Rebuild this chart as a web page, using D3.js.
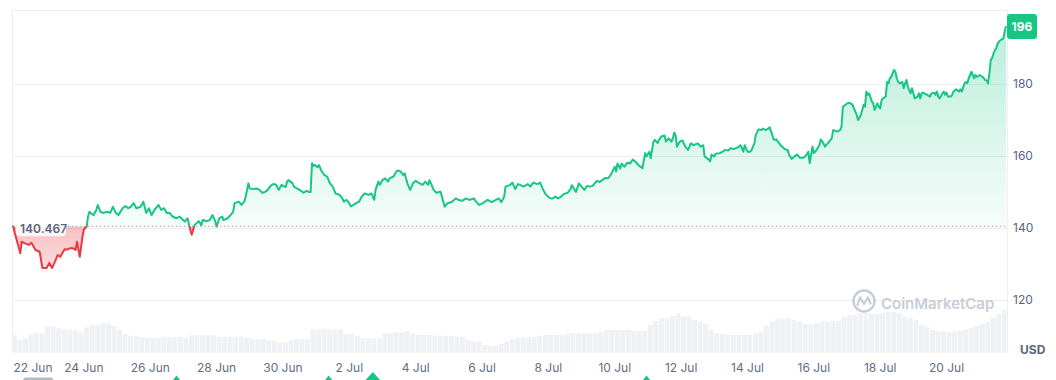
<!DOCTYPE html>
<html>
<head>
<meta charset="utf-8">
<script src="https://cdn.jsdelivr.net/npm/d3@7"></script>
<style>
  html, body { margin: 0; padding: 0; background: #fff; }
  svg { display: block; font-family: Inter, "Noto Sans", "DejaVu Sans", sans-serif; }
</style>
</head>
<body>
<svg id="chart" width="1056" height="380"></svg>
<script>
// ---------------- DATA ----------------
const startTime = "2023-06-21T20:00:00";   // first hourly sample
const endHour = 719;
const baselineValue = 140.467;
const lastValue = 196;
const currency = "USD";
const watermark = "CoinMarketCap";

const priceHours = [0,1,2,6,7,9,12,14,17,20,22,25,27,29,31,33,35,38,40,42,44,46,47,49,51,52,54,55,56,57,59,61,62,64,66,69,71,73,75,77,80,82,84,86,88,90,93,95,97,99,101,103,106,108,110,112,114,116,119,121,
125,127,129,130,132,135,137,138,141,143,145,147,148,150,152,153,156,158,160,161,164,165,166,168,169,171,172,174,177,179,181,183,185,187,189,191,193,195,196,198,199,200,203,204,206,208,211,213,215,216,
217,218,219,221,222,224,226,228,230,232,234,237,239,240,242,244,245,247,249,251,253,255,258,260,262,263,265,266,268,270,272,273,276,278,279,281,283,284,286,288,290,292,294,297,299,301,
302,305,307,310,313,315,318,321,323,326,328,331,334,336,338,341,344,347,349,352,354,356,357,360,362,364,366,368,370,373,375,377,380,382,384,386,389,391,393,395,397,399,402,404,405,407,408,410,412,414,416,418,420,423,425,427,429,431,433,
436,437,438,440,441,443,445,447,449,451,453,455,456,458,459,461,462,464,465,467,468,470,472,473,475,477,478,479,480,481,483,485,487,489,491,493,496,498,500,501,504,505,506,508,509,512,514,516,518,520,522,525,527,529,530,532,534,535,537,538,540,542,543,545,547,548,550,551,553,554,556,559,561,562,564,566,568,570,572,574,576,577,579,580,582,584,585,587,588,590,591,
593,594,597,599,600,601,604,606,608,610,611,612,614,615,616,617,618,619,620,622,623,624,626,627,628,629,630,632,633,634,635,636,638,639,640,641,642,644,645,646,647,648,650,651,652,653,655,656,657,658,659,662,664,665,667,668,669,670,671,673,674,675,676,677,679,680,681,682,683,685,686,687,
689,690,691,692,693,694,696,697,698,699,700,702,703,704,705,706,707,708,709,710,711,712,713,714,715,717,718,719];

const priceValues = [140.5,140.4,138.6,133,136.2,135.8,135.3,135.9,133.9,133.4,128.9,128.9,130.3,128.9,130.6,132.5,132,134.1,134,134.4,134.4,133.9,136.2,132,137.6,139.6,140.4,143.2,144.5,144.1,143.6,145,146.4,144.5,144.2,144.5,144.2,145.9,144.2,143.6,145.5,146.1,145.5,145.9,146.9,145.5,145.9,147.3,144.2,145.5,143.6,145,146.4,145,145.5,144.2,144.2,143.2,142.7,143.2,
141.8,142.7,139.4,138.1,140.8,141.9,140.8,142.2,141.9,142.2,143.6,141.9,140.4,142.7,143.2,142.2,142.7,143.6,144.5,146.9,147.3,146.9,146.4,147.3,148.7,152.4,151,150.8,151,150.6,149.8,150,150.6,151.7,152.2,152,150.6,152,151.7,151.4,152.9,153.3,152.4,151.5,151,150.6,149.8,150.3,150,150,
158,157.2,157.5,156.9,157.5,155.7,154.7,154.3,152.4,151.5,149.6,149.2,148.2,147.3,147.8,146.9,146,146.4,146.9,147.3,148.7,149.6,149.2,149.6,147.8,150.6,152.9,152,153.3,153.8,152.9,153.8,154.3,155.7,156,155.7,154.7,155.2,152.4,150.6,152.4,153.1,152.6,152,152.9,152,
153.3,150.6,149.8,150.1,145.9,146.9,147.2,148.2,147.8,147.6,148.2,147.8,148.2,147.2,146.4,147,147.8,147.2,147.6,148.2,147.2,148.7,151.5,151.9,152.6,150.8,152.2,151.9,151.5,152.2,151.5,152.6,152.2,152.6,150.8,149.4,148.3,148.2,148.7,148.2,148.7,149.4,149.8,150.8,151.9,150.6,150,152.4,151.5,150.6,151.7,151.5,151.7,153.1,152.8,153.3,153.9,153.8,154.7,
157,155.7,157.9,156.5,157.9,157,158.1,157.9,159,158.4,157.5,156.9,156.6,160.8,159.9,161.2,159.4,164,164.5,163.6,164.5,165.5,165.7,164,164.9,164,164.9,166.5,165.8,162.6,164,164.3,162.6,161.7,163.5,163,163.5,162.6,163,159.9,159,158.5,160.4,159.9,160.6,160.8,161.2,161.7,161.5,162.2,161.9,162.4,163,161.2,163,161.2,161.2,161.7,163.5,165.8,167.4,167.2,167.6,167.2,167.6,168,165.8,164.5,164.6,164,163,161.9,161.7,160.4,159.2,159.9,160.4,159.5,159.5,159.9,161.2,158,162.6,160.8,161.7,163,164.6,163.5,162.6,163.5,164,
164.9,167.2,166.8,167.2,168.1,173.7,174.6,174.8,174.2,172.3,171.4,170,171.4,172.8,174.2,173.7,177.9,177,177.4,175.1,174.6,172.8,174.6,173.7,173.2,175.5,176,176.5,180.6,180.2,181.6,182,183.9,183.4,181.6,180.6,180.2,180.6,178.8,180.2,181.1,179.3,177.4,178.8,177.4,176,176.5,177.4,176,177.4,177.6,177,176.5,177.4,177.6,177,177.9,176.5,176,177.4,177.9,177,177.6,176.5,176.5,177,177.9,178.2,178.5,177.9,178.5,177.9,
180.2,180.6,180.2,181.6,182.5,183.4,181.6,182.5,182,182.2,182.5,182,181.6,181.1,181,180.2,183,186.7,187.2,188.5,189.4,190,191.3,191.8,192.2,192.6,194.5,196.1];

// volume, one value every 4 hours from startTime (relative units)
const volumeStepHours = 4;
const volumeValues = [177,127,147,184,194,194,260,260,244,234,234,227,204,254,277,277,294,294,267,227,
184,170,170,162,150,150,150,157,157,157,157,150,174,174,174,174,174,160,160,160,
160,160,152,137,137,137,117,117,100,100,127,137,137,137,234,234,234,234,234,234,
184,184,170,144,144,144,144,194,194,202,207,217,187,177,177,177,172,172,167,167,
162,162,127,110,110,77,70,70,87,110,137,154,154,154,157,167,177,177,177,177,
187,194,194,194,194,197,207,227,227,227,227,227,220,220,220,277,317,344,344,367,
394,360,360,327,310,287,227,194,187,177,177,177,177,177,197,210,267,310,337,344,
344,327,310,287,287,297,310,310,317,320,357,377,377,394,394,394,387,402,407,407,
397,360,347,327,277,257,227,220,217,210,210,222,234,247,267,287,307,344,387,427];

const yTicks = [120, 140, 160, 180];
const tickLabels = ["22 Jun","24 Jun","26 Jun","28 Jun","30 Jun","2 Jul","4 Jul","6 Jul","8 Jul","10 Jul","12 Jul","14 Jul","16 Jul","18 Jul","20 Jul"];
const tickYear = 2023;
const eventHours = [119, 229, 261, 459];
const eventSizes = [6, 6, 10, 6];

// ---------------- SETUP ----------------
const svg = d3.select("#chart");
const W = 1056, H = 380;
const plot = { left: 12, right: 1006, top: 10, volBottom: 352.7 };
const green = "#16c784", red = "#ea3943", textCol = "#58667e", gridCol = "#eceff3";

const t0 = new Date(startTime);
const hourToDate = h => new Date(t0.getTime() + h * 3600e3);
const x = d3.scaleTime().domain([t0, hourToDate(endHour)]).range([plot.left, plot.right]);
const y = d3.scaleLinear().domain([120, 180]).range([300, 84]);
const v = d3.scaleLinear().domain([0, 400]).range([plot.volBottom, plot.volBottom - 40]);

const data = priceHours.map((h, i) => ({ t: hourToDate(h), p: priceValues[i] }));
const by = y(baselineValue);

const defs = svg.append("defs");
const gg = defs.append("linearGradient").attr("id", "gGreen").attr("gradientUnits", "userSpaceOnUse")
  .attr("x1", 0).attr("x2", 0).attr("y1", plot.top).attr("y2", by);
gg.append("stop").attr("offset", 0).attr("stop-color", green).attr("stop-opacity", 0.32);
gg.append("stop").attr("offset", 1).attr("stop-color", green).attr("stop-opacity", 0.04);
const gr = defs.append("linearGradient").attr("id", "gRed").attr("gradientUnits", "userSpaceOnUse")
  .attr("x1", 0).attr("x2", 0).attr("y1", by).attr("y2", y(126));
gr.append("stop").attr("offset", 0).attr("stop-color", red).attr("stop-opacity", 0.32);
gr.append("stop").attr("offset", 1).attr("stop-color", red).attr("stop-opacity", 0.14);

defs.append("clipPath").attr("id", "cAbove").append("rect")
  .attr("x", 0).attr("y", 0).attr("width", W).attr("height", by);
defs.append("clipPath").attr("id", "cBelow").append("rect")
  .attr("x", 0).attr("y", by).attr("width", W).attr("height", H - by);

// frame + grid
svg.append("g").selectAll("line").data(yTicks).join("line")
  .attr("x1", plot.left).attr("x2", plot.right + 1)
  .attr("y1", d => Math.round(y(d)) + 0.5).attr("y2", d => Math.round(y(d)) + 0.5)
  .attr("stroke", gridCol);
svg.append("path")
  .attr("d", `M${plot.left + 0.5},${plot.volBottom} V${plot.top + 0.5} H${plot.right + 1.5} V${plot.volBottom}`)
  .attr("fill", "none").attr("stroke", gridCol);

// volume bars
const vStep = x(hourToDate(volumeStepHours)) - x(hourToDate(0));
svg.append("g").selectAll("rect").data(volumeValues).join("rect")
  .attr("x", (d, i) => x(hourToDate(i * volumeStepHours)))
  .attr("width", vStep - 0.6)
  .attr("y", d => v(d))
  .attr("height", d => plot.volBottom - v(d))
  .attr("fill", "#eff1f4");

// areas
const area = d3.area().x(d => x(d.t)).y0(by).y1(d => y(d.p));
svg.append("path").datum(data).attr("d", area).attr("fill", "url(#gGreen)").attr("clip-path", "url(#cAbove)");
svg.append("path").datum(data).attr("d", area).attr("fill", "url(#gRed)").attr("clip-path", "url(#cBelow)");

// baseline
svg.append("line").attr("x1", plot.left).attr("x2", plot.right).attr("y1", by).attr("y2", by)
  .attr("stroke", "#98a1ae").attr("stroke-dasharray", "1.2,2.8");

// lines
const line = d3.line().x(d => x(d.t)).y(d => y(d.p));
svg.append("path").datum(data).attr("d", line).attr("fill", "none").attr("stroke", green)
  .attr("stroke-width", 2).attr("stroke-linejoin", "round").attr("clip-path", "url(#cAbove)");
svg.append("path").datum(data).attr("d", line).attr("fill", "none").attr("stroke", red)
  .attr("stroke-width", 2).attr("stroke-linejoin", "round").attr("clip-path", "url(#cBelow)");

// baseline label
const bl = svg.append("g");
bl.append("rect").attr("x", plot.left + 4).attr("y", by - 7).attr("width", 50).attr("height", 17).attr("rx", 4)
  .attr("fill", "#fff").attr("fill-opacity", 0.85);
bl.append("text").attr("x", plot.left + 8).attr("y", by + 2).attr("dy", "0.35em")
  .attr("font-size", 12).attr("font-weight", 600).attr("fill", textCol).text(baselineValue.toFixed(3));

// y axis labels
svg.append("g").selectAll("text").data(yTicks).join("text")
  .attr("x", 1013).attr("y", d => y(d)).attr("dy", "0.35em")
  .attr("font-size", 12).attr("fill", textCol).text(d => d);

// last value badge
const ly = y(lastValue);
svg.append("rect").attr("x", 1007).attr("y", ly - 12.5).attr("width", 30).attr("height", 25).attr("rx", 3).attr("fill", green);
svg.append("text").attr("x", 1022).attr("y", ly).attr("dy", "0.36em").attr("text-anchor", "middle")
  .attr("font-size", 12).attr("font-weight", 700).attr("fill", "#fff").text(lastValue);

// currency
svg.append("text").attr("x", 1020).attr("y", 354).attr("font-size", 12).attr("font-weight", 700)
  .attr("fill", textCol).text(currency);

// x axis labels
const parseTick = d3.timeParse("%d %b %Y");
const xt = svg.append("g");
tickLabels.forEach(lab => {
  const d = parseTick(lab + " " + tickYear);
  const t = xt.append("text").attr("x", x(d)).attr("y", 372).attr("text-anchor", "middle")
    .attr("font-size", 12).attr("fill", "#616e85").text(lab);
  const w = t.node().getComputedTextLength();
  if (x(d) - w / 2 < plot.left + 1) t.attr("text-anchor", "start").attr("x", plot.left + 1.5);
});

// event markers (cut by bottom edge)
svg.append("g").selectAll("path").data(eventHours).join("path")
  .attr("d", (h, i) => {
    const cx = x(hourToDate(h)), s = eventSizes[i], top = 381 - s * 0.9;
    return `M${cx},${top} L${cx + s},${383} L${cx - s},${383} Z`;
  })
  .attr("fill", green);
svg.append("rect").attr("x", x(hourToDate(8))).attr("y", 377.5).attr("width", x(hourToDate(30)) - x(hourToDate(8)))
  .attr("height", 6).attr("rx", 3).attr("fill", "#b4bcc8");

// watermark
const wm = svg.append("g").attr("opacity", 0.9);
wm.append("circle").attr("cx", 864).attr("cy", 301).attr("r", 10.5).attr("fill", "none")
  .attr("stroke", "#c3c9d3").attr("stroke-width", 2.4);
wm.append("path").attr("d", "M857.5,305 L860,297.5 L864,304 L868,297.5 L870.5,303.5")
  .attr("fill", "none").attr("stroke", "#c3c9d3").attr("stroke-width", 2.2).attr("stroke-linejoin", "round").attr("stroke-linecap", "round");
wm.append("text").attr("x", 881).attr("y", 308.5).attr("font-size", 15).attr("font-weight", 600)
  .attr("fill", "#c3c9d3").text(watermark);
</script>
</body>
</html>
